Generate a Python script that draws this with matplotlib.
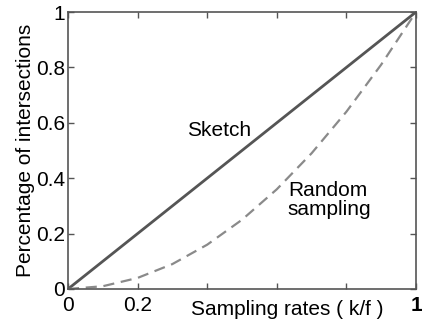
import matplotlib.pyplot as plt

plt.rcParams["font.family"] = ["Liberation Sans", "DejaVu Sans"]

# sampling rate k/f
rates = [0.0, 0.1, 0.2, 0.3, 0.4, 0.5, 0.6, 0.7, 0.8, 0.9, 1.0]
# fraction of intersections preserved
sketch = [0.0, 0.1, 0.2, 0.3, 0.4, 0.5, 0.6, 0.7, 0.8, 0.9, 1.0]
random_sampling = [0.0, 0.01, 0.04, 0.09, 0.16, 0.25, 0.36, 0.49, 0.64, 0.81, 1.0]

xticks = [0.0, 0.2, 0.4, 0.6, 0.8, 1.0]
xticklabels = ["0", "0.2", "", "", "", "1"]
yticks = [0.0, 0.2, 0.4, 0.6, 0.8, 1.0]
yticklabels = ["0", "0.2", "0.4", "0.6", "0.8", "1"]

FS = 15

fig = plt.figure(figsize=(4.22, 3.23), dpi=100)
ax = fig.add_axes([68 / 422, 1 - 289 / 323, 348 / 422, 277 / 323])

ax.plot(rates, sketch, color="#555555", lw=2.0, solid_capstyle="butt")
ax.plot(rates, random_sampling, color="#8a8a8a", lw=1.6, ls=(0, (5, 3)))

ax.text(0.434, 0.574, "Sketch", fontsize=FS, ha="center", va="center")
ax.text(0.632, 0.32, "Random\nsampling", fontsize=FS, ha="left", va="center",
        linespacing=1.0)

ax.set_xlim(0, 1)
ax.set_ylim(0, 1)
ax.set_xticks(xticks)
ax.set_xticklabels(xticklabels)
ax.set_yticks(yticks)
ax.set_yticklabels(yticklabels)
ax.tick_params(direction="in", length=4, width=1, color="#555555",
               labelsize=FS, top=True, right=True)
ax.tick_params(axis="y", pad=2)
ax.tick_params(axis="x", pad=5)
ax.get_xticklabels()[-1].set_fontweight("bold")
for s in ax.spines.values():
    s.set_color("#555555")
    s.set_linewidth(1.2)

ax.set_ylabel("Percentage of intersections", fontsize=FS, labelpad=1)
ax.text(0.63, -0.04, "Sampling rates ( k/f )", fontsize=FS, ha="center",
        va="top", transform=ax.transAxes)

fig.savefig("out.png", dpi=100)
